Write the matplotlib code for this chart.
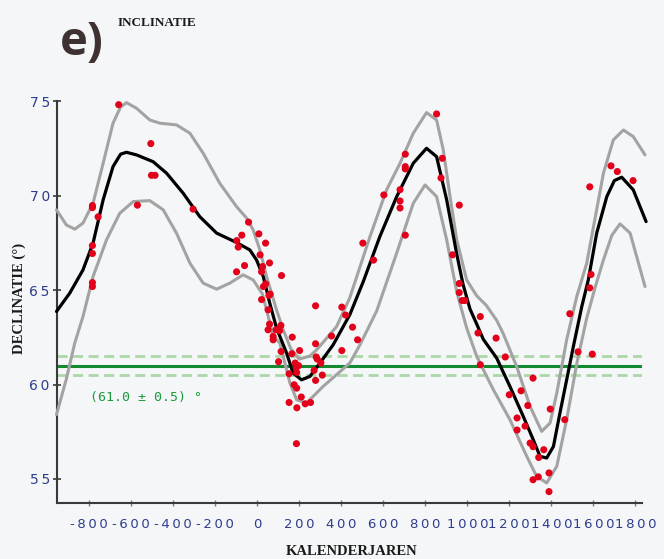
import matplotlib
matplotlib.use("Agg")
import matplotlib.pyplot as plt
from matplotlib.ticker import FixedLocator, FixedFormatter

# --- data ------------------------------------------------------------------
mean_years = [-955, -892, -829, -781, -733, -686, -650, -622, -574, -495, -431,
              -352, -273, -193, -98, -35, -3, 29, 60, 92, 140, 171, 211, 251,
              299, 362, 441, 505, 584, 664, 743, 806, 854, 902, 950, 980, 1013,
              1045, 1076, 1140, 1203, 1267, 1314, 1346, 1378, 1410, 1441, 1473,
              1505, 1545, 1576, 1616, 1664, 1700, 1735, 1790, 1851]
mean_incl = [63.87, 64.84, 66.07, 67.49, 69.78, 71.54, 72.20, 72.30, 72.16, 71.80,
             71.19, 70.13, 68.89, 68.02, 67.52, 67.13, 66.60, 65.72, 64.31, 63.00,
             61.67, 60.61, 60.25, 60.43, 61.14, 62.11, 63.70, 65.45, 67.84, 69.95,
             71.72, 72.51, 72.07, 69.78, 66.90, 65.30, 64.00, 63.20, 62.40, 61.40,
             59.90, 58.30, 57.08, 56.20, 56.11, 56.72, 58.49, 60.25, 62.02, 64.13,
             65.54, 68.02, 69.95, 70.80, 70.98, 70.31, 68.63]

upper_years = [-955, -908, -868, -829, -781, -733, -686, -650, -622, -574, -511,
               -463, -384, -320, -257, -178, -98, -50, -19, 13, 45, 92, 124, 160,
               200, 250, 283, 378, 441, 537, 616, 680, 743, 806, 854, 886, 918,
               950, 997, 1045, 1090, 1140, 1171, 1235, 1299, 1354, 1394, 1426,
               1473, 1521, 1568, 1648, 1695, 1743, 1790, 1846]
upper_incl = [69.25, 68.45, 68.23, 68.55, 69.60, 71.72, 73.84, 74.70, 74.93, 74.63,
              74.01, 73.84, 73.75, 73.31, 72.25, 70.66, 69.42, 68.81, 68.19, 67.13,
              65.72, 63.96, 62.90, 61.90, 61.35, 61.50, 61.84, 63.07, 64.60, 67.84,
              70.31, 71.72, 73.31, 74.40, 74.01, 72.42, 69.95, 67.66, 65.54, 64.70,
              64.20, 63.40, 62.70, 60.96, 58.84, 57.52, 57.96, 59.55, 62.37, 64.66,
              66.40, 71.19, 72.95, 73.48, 73.13, 72.16]

lower_years = [-955, -908, -868, -829, -781, -717, -654, -590, -511, -447, -384,
               -320, -257, -193, -130, -67, -19, 25, 76, 108, 156, 188, 235, 314,
               441, 489, 569, 664, 743, 799, 854, 902, 950, 997, 1045, 1124, 1203,
               1283, 1330, 1378, 1426, 1473, 1521, 1568, 1610, 1648, 1688, 1727,
               1775, 1846]
lower_incl = [58.41, 60.30, 62.20, 63.60, 65.72, 67.66, 69.07, 69.69, 69.74, 69.25,
              68.02, 66.43, 65.37, 65.05, 65.37, 65.81, 65.54, 64.80, 62.60, 62.20,
              60.08, 59.19, 59.02, 59.90, 61.14, 62.10, 63.90, 66.96, 69.60, 70.57,
              69.95, 67.66, 64.90, 63.00, 61.49, 59.73, 58.14, 56.20, 55.14, 54.79,
              55.67, 58.14, 61.10, 63.50, 65.20, 66.60, 67.90, 68.51, 68.02, 65.19]

obs_years = [-659, -784, -784, -757, -784, -784, -784, -784, -506, -503, -486, -570,
             -305, -41, -73, 8, -97, -90, 40, 14, 59, 26, -60, -98, 21, 116, 30, 40,
             62, 56, 21, 52, 278, 403, 421, 59, 52, 90, 113, 107, 167, 354, 76, 454,
             76, 478, 278, 403, 114, 202, 165, 281, 286, 102, 181, 197, 303, 186,
             271, 152, 188, 310, 278, 176, 188, 210, 152, 229, 254, 189, 187, 854,
             705, 705, 705, 881, 875, 680, 603, 680, 680, 962, 705, 503, 554, 930,
             962, 962, 976, 988, 1062, 1051, 1137, 1583, 1684, 1714, 1789, 1589,
             1583, 1488, 1181, 1062, 1313, 1527, 1595, 1256, 1200, 1288, 1395, 1237,
             1464, 1275, 1237, 1299, 1313, 1364, 1340, 1389, 1338, 1313, 1389]
obs_incl = [74.82, 69.48, 69.37, 68.88, 67.36, 66.94, 65.40, 65.19, 72.76, 71.08,
            71.08, 69.50, 69.29, 68.60, 67.91, 67.98, 67.62, 67.28, 67.49, 66.87,
            66.44, 66.25, 66.30, 65.97, 65.97, 65.77, 65.19, 65.33, 64.79, 64.72,
            64.50, 63.96, 64.17, 64.10, 63.68, 63.20, 62.90, 62.90, 63.13, 62.85,
            62.51, 62.57, 62.55, 63.04, 62.37, 62.37, 62.16, 61.80, 61.75, 61.80,
            61.63, 61.46, 61.35, 61.21, 61.14, 61.00, 61.14, 60.90, 60.75, 60.57,
            60.64, 60.50, 60.22, 59.99, 59.81, 59.34, 59.05, 58.98, 59.05, 58.77,
            56.87, 74.33, 72.20, 71.54, 71.42, 71.98, 70.94, 70.32, 70.04, 69.72,
            69.35, 69.50, 67.91, 67.49, 66.59, 66.87, 65.35, 64.87, 64.45, 64.45,
            63.60, 62.73, 62.46, 70.47, 71.58, 71.28, 70.80, 65.83, 65.12, 63.75,
            61.46, 61.05, 60.34, 61.73, 61.61, 59.67, 59.46, 58.89, 58.70, 58.23,
            58.14, 57.80, 57.59, 56.90, 56.71, 56.55, 56.14, 55.32, 55.11, 54.96,
            54.33]

ref_value = 61.0
ref_error = 0.5

x_ticks = [-800, -600, -400, -200, 0, 200, 400, 600, 800, 1000, 1200, 1400, 1600, 1800]
x_tick_labels = ["-800", "-600", "-400", "-200", "0", "200", "400", "600", "800",
                 "1000", "1200", "1400", "1600", "1800"]
y_ticks = [55, 60, 65, 70, 75]
y_tick_labels = ["55", "60", "65", "70", "75"]

BG = "#f4f6f8"
TICK_BLUE = "#2e3d8c"
GRAY = "#a3a3a3"
RED = "#e2001a"
GREEN = "#138a30"
LIGHT_GREEN = "#acd7a6"
TITLE_BROWN = "#3d3131"


def spaced(label):
    # the reference sets its numbers with wide letter spacing
    return "\u2009".join(label)


fig = plt.figure(figsize=(6.64, 5.59), dpi=100, facecolor=BG)
ax = fig.add_axes([0.0854, 0.0996, 0.8816, 0.7192], facecolor=BG)

ax.axhline(ref_value, color=GREEN, lw=2.2, zorder=2)
for off in (-ref_error, ref_error):
    ax.axhline(ref_value + off, color=LIGHT_GREEN, lw=2.0, dashes=(3.6, 2.0), zorder=1)

ax.plot(upper_years, upper_incl, color=GRAY, lw=2.2, zorder=3, clip_on=False,
        solid_joinstyle="round", solid_capstyle="round")
ax.plot(lower_years, lower_incl, color=GRAY, lw=2.2, zorder=3, clip_on=False,
        solid_joinstyle="round", solid_capstyle="round")
ax.plot(mean_years, mean_incl, color="black", lw=2.3, zorder=4, clip_on=False,
        solid_joinstyle="round", solid_capstyle="round")
ax.scatter(obs_years, obs_incl, s=26, color=RED, edgecolors="none", zorder=5,
           clip_on=False)

ax.text(-795, 59.3, "(61.0 ± 0.5) °", color="#1b9a3c", fontsize=9.5,
        family="DejaVu Sans Mono", va="center", ha="left")

ax.set_xlim(-954, 1832)
ax.set_ylim(53.71, 75)

for side in ("top", "right"):
    ax.spines[side].set_visible(False)
for side in ("left", "bottom"):
    ax.spines[side].set_color("#3a3a3a")
    ax.spines[side].set_linewidth(1.5)
ax.spines["left"].set_bounds(53.71, 75)

ax.xaxis.set_major_locator(FixedLocator(x_ticks))
ax.xaxis.set_major_formatter(FixedFormatter([spaced(t) for t in x_tick_labels]))
ax.yaxis.set_major_locator(FixedLocator(y_ticks))
ax.yaxis.set_major_formatter(FixedFormatter([spaced(t) for t in y_tick_labels]))
ax.tick_params(axis="x", direction="inout", length=5, width=1.0, color="#7a7a7a",
               labelcolor=TICK_BLUE, labelsize=9.5, pad=8)
ax.tick_params(axis="y", direction="inout", length=6, width=1.2, color="#3a3a3a",
               labelcolor=TICK_BLUE, labelsize=10, pad=2)

fig.text(60 / 664, 1 - 55 / 559, "e)", color=TITLE_BROWN, fontsize=34,
         family="Open Sans", weight="bold", ha="left", va="baseline")
fig.text(118 / 664, 1 - 26 / 559, "INCLINATIE", color="#1a1a1a", fontsize=9.5,
         family="Liberation Serif", weight="bold", ha="left", va="baseline")
fig.text(352 / 664, 1 - 555 / 559, "KALENDERJAREN", color="#1a1a1a", fontsize=10.5,
         family="Liberation Serif", weight="bold", ha="center", va="baseline")
fig.text(19 / 664, 1 - 298 / 559, "DECLINATIE (°)", color="#1a1a1a", fontsize=10.5,
         family="Liberation Serif", weight="bold", ha="center", va="center",
         rotation=90)

fig.savefig("out.png", dpi=100, facecolor=BG)
